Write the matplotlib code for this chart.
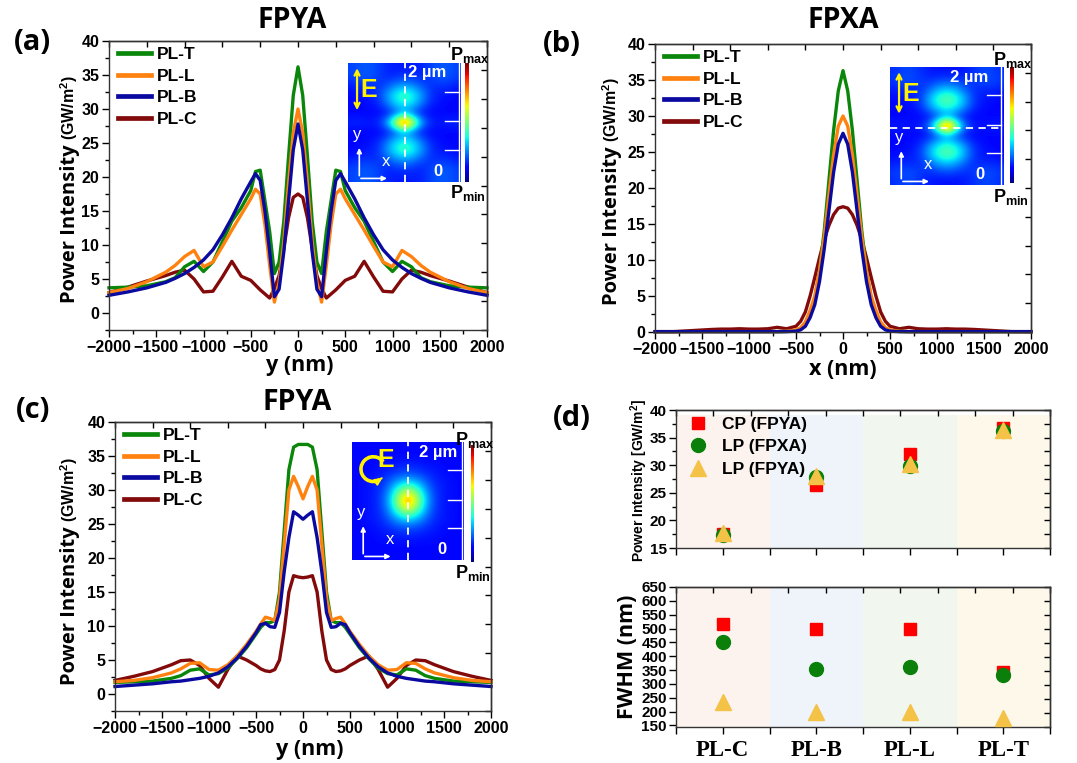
"""
Field profiles of the plasmonic lenses (FPYA / FPXA) plus peak intensity and FWHM summary.
"""
import numpy as np
import matplotlib
matplotlib.use("Agg")
import matplotlib.pyplot as plt
from matplotlib.ticker import MultipleLocator, FixedLocator
from matplotlib.patches import Arc

plt.rcParams["font.family"] = ["Liberation Sans", "DejaVu Sans"]
plt.rcParams["font.weight"] = "bold"
plt.rcParams["mathtext.fontset"] = "custom"
plt.rcParams["mathtext.rm"] = "Liberation Sans"
plt.rcParams["mathtext.bf"] = "Liberation Sans:bold"
plt.rcParams["axes.linewidth"] = 1.0
plt.rcParams["axes.edgecolor"] = "#333333"

# ---------------------------------------------------------------- data
position_nm = [-2000, -1800, -1600, -1400, -1300, -1200, -1100, -1000, -900, -800, -700, -600,
               -500, -450, -400, -350, -300, -250, -200, -150, -100, -50, 0, 50, 100, 150, 200,
               250, 300, 350, 400, 450, 500, 600, 700, 800, 900, 1000, 1100, 1200, 1300, 1400,
               1600, 1800, 2000]

# (a) FPYA, linear polarisation, cut along y
a_pl_t = [3.7, 3.8, 4.0, 4.6, 5.2, 6.8, 7.6, 6.1, 7.5, 10.5, 13.5, 15.5, 18, 20.8, 21, 16.5, 12, 5.8,
          7.5, 13.5, 23, 32, 36.2, 32, 23, 13.5, 7.5, 5.8, 12, 16.5, 21, 20.8, 18, 15.5, 13.5, 10.5,
          7.5, 6.1, 7.6, 6.8, 5.2, 4.6, 4.0, 3.8, 3.7]
a_pl_l = [3.0, 3.6, 4.6, 6.0, 7.0, 8.3, 9.2, 6.8, 7.5, 9.8, 12.2, 14.5, 16.8, 18.2, 17.5, 13, 7, 1.6,
          4.5, 10.5, 19, 26.5, 30, 26.5, 19, 10.5, 4.5, 1.6, 7, 13, 17.5, 18.2, 16.8, 14.5, 12.2, 9.8,
          7.5, 6.8, 9.2, 8.3, 7.0, 6.0, 4.6, 3.6, 3.0]
a_pl_b = [2.6, 3.1, 3.7, 4.5, 5.1, 5.8, 6.7, 7.8, 9.3, 11.5, 14, 16.8, 19.3, 20.5, 19.5, 15, 9, 2.4,
          3.5, 9, 16.5, 24, 27.8, 24, 16.5, 9, 3.5, 2.4, 9, 15, 19.5, 20.5, 19.3, 16.8, 14, 11.5,
          9.3, 7.8, 6.7, 5.8, 5.1, 4.5, 3.7, 3.1, 2.6]
a_pl_c = [3.0, 3.8, 4.7, 5.5, 6.0, 6.3, 5.0, 3.1, 3.2, 5.3, 7.6, 5.4, 4.8, 4.1, 3.4, 2.8, 2.2, 3.6,
          5.5, 9.5, 14, 17, 17.5, 17, 14, 9.5, 5.5, 3.6, 2.2, 2.8, 3.4, 4.1, 4.8, 5.4, 7.6, 5.3,
          3.2, 3.1, 5.0, 6.3, 6.0, 5.5, 4.7, 3.8, 3.0]

# (b) FPXA, linear polarisation, cut along x
b_pl_t = [0.05, 0.05, 0.05, 0.05, 0.05, 0.05, 0.05, 0.05, 0.05, 0.05, 0.05, 0.08, 0.2, 0.45, 1.1,
          2.6, 4.6, 8.5, 14, 21, 28, 33.5, 36.3, 33.5, 28, 21, 14, 8.5, 4.6, 2.6, 1.1, 0.45, 0.2,
          0.08, 0.05, 0.05, 0.05, 0.05, 0.05, 0.05, 0.05, 0.05, 0.05, 0.05, 0.05]
b_pl_l = [0.05, 0.05, 0.05, 0.05, 0.05, 0.05, 0.05, 0.05, 0.05, 0.05, 0.05, 0.1, 0.3, 0.6, 1.4,
          3.0, 5.0, 8.5, 13.2, 19, 24.6, 28.6, 30, 28.6, 24.6, 19, 13.2, 8.5, 5.0, 3.0, 1.4, 0.6,
          0.3, 0.1, 0.05, 0.05, 0.05, 0.05, 0.05, 0.05, 0.05, 0.05, 0.05, 0.05, 0.05]
b_pl_b = [0.05, 0.05, 0.05, 0.05, 0.05, 0.05, 0.05, 0.05, 0.05, 0.05, 0.05, 0.05, 0.12, 0.3, 0.8,
          2.0, 3.8, 7.0, 11.5, 16.8, 22.2, 26.1, 27.6, 26.1, 22.2, 16.8, 11.5, 7.0, 3.8, 2.0, 0.8,
          0.3, 0.12, 0.05, 0.05, 0.05, 0.05, 0.05, 0.05, 0.05, 0.05, 0.05, 0.05, 0.05, 0.05]
b_pl_c = [0.05, 0.05, 0.2, 0.35, 0.4, 0.4, 0.45, 0.4, 0.4, 0.45, 0.65, 0.45, 0.8, 1.5, 2.8, 5.0,
          7.6, 10.3, 12.8, 14.8, 16.3, 17.2, 17.4, 17.2, 16.3, 14.8, 12.8, 10.3, 7.6, 5.0, 2.8,
          1.5, 0.8, 0.45, 0.65, 0.45, 0.4, 0.4, 0.45, 0.4, 0.4, 0.35, 0.2, 0.05, 0.05]

# (c) FPYA, circular polarisation, cut along y
c_pl_t = [1.7, 1.8, 1.9, 2.3, 2.7, 3.5, 3.7, 2.8, 3.0, 3.8, 5.2, 6.8, 8.8, 9.8, 10.5, 10.5, 10.8,
          15, 24, 33, 36.3, 36.7, 36.7, 36.7, 36.3, 33, 24, 15, 10.8, 10.5, 10.5, 9.8, 8.8, 6.8,
          5.2, 3.8, 3.0, 2.8, 3.7, 3.5, 2.7, 2.3, 1.9, 1.8, 1.7]
c_pl_l = [1.8, 2.0, 2.4, 3.1, 3.7, 4.5, 4.6, 3.6, 3.5, 4.3, 5.6, 7.3, 9.2, 10.3, 11.3, 11.1, 10.8,
          14, 22, 30, 32, 30.5, 28.7, 30.5, 32, 30, 22, 14, 10.8, 11.1, 11.3, 10.3, 9.2, 7.3, 5.6,
          4.3, 3.5, 3.6, 4.6, 4.5, 3.7, 3.1, 2.4, 2.0, 1.8]
c_pl_b = [1.1, 1.3, 1.5, 1.8, 1.9, 2.1, 2.3, 2.6, 3.1, 4.0, 5.3, 7.0, 9.0, 10.2, 10.4, 9.9, 9.8,
          12, 18, 23, 26.8, 26.3, 25.7, 26.3, 26.8, 23, 18, 12, 9.8, 9.9, 10.4, 10.2, 9.0, 7.0,
          5.3, 4.0, 3.1, 2.6, 2.3, 2.1, 1.9, 1.8, 1.5, 1.3, 1.1]
c_pl_c = [2.0, 2.6, 3.3, 4.3, 4.9, 5.0, 4.2, 2.3, 1.0, 3.6, 5.6, 5.0, 4.2, 3.7, 3.4, 3.3, 3.6,
          5.0, 9.3, 15, 17.4, 17.2, 17.1, 17.2, 17.4, 15, 9.3, 5.0, 3.6, 3.3, 3.4, 3.7, 4.2, 5.0,
          5.6, 3.6, 1.0, 2.3, 4.2, 5.0, 4.9, 4.3, 3.3, 2.6, 2.0]

# (d) summary
lens_names = ["PL-C", "PL-B", "PL-L", "PL-T"]
peak_cp_fpya = [17.6, 26.5, 32.0, 36.7]
peak_lp_fpxa = [17.3, 27.8, 29.9, 36.2]
peak_lp_fpya = [17.7, 28.0, 30.2, 36.4]
fwhm_cp_fpya = [515, 500, 500, 341]
fwhm_lp_fpxa = [450, 352, 362, 333]
fwhm_lp_fpya = [235, 197, 200, 178]

# field maps of the insets (relative |E|^2, rows top to bottom)
map_lp_y = [
    [.19, .21, .21, .19, .16, .15, .15, .15, .16, .19, .21, .21, .19],
    [.19, .21, .21, .19, .16, .17, .18, .17, .16, .19, .21, .21, .19],
    [.15, .17, .17, .17, .21, .26, .29, .26, .21, .17, .17, .17, .15],
    [.13, .14, .15, .18, .28, .38, .44, .38, .28, .18, .15, .14, .13],
    [.13, .13, .14, .16, .24, .33, .37, .33, .24, .16, .14, .13, .13],
    [.13, .13, .13, .13, .14, .20, .28, .20, .14, .13, .13, .13, .13],
    [.16, .16, .15, .17, .30, .64, .99, .64, .30, .17, .15, .16, .16],
    [.13, .13, .13, .13, .14, .20, .28, .20, .14, .13, .13, .13, .13],
    [.13, .13, .14, .16, .24, .33, .37, .33, .24, .16, .14, .13, .13],
    [.13, .14, .15, .18, .28, .38, .44, .38, .28, .18, .15, .14, .13],
    [.15, .17, .17, .17, .21, .26, .29, .26, .21, .17, .17, .17, .15],
    [.19, .21, .21, .19, .16, .17, .18, .17, .16, .19, .21, .21, .19],
    [.19, .21, .21, .19, .16, .15, .15, .15, .16, .19, .21, .21, .19],
]
map_lp_x = [
    [.17, .19, .19, .17, .15, .14, .14, .14, .15, .17, .19, .19, .17],
    [.18, .20, .20, .18, .17, .19, .20, .19, .17, .18, .20, .20, .18],
    [.15, .16, .16, .17, .23, .30, .33, .30, .23, .17, .16, .16, .15],
    [.13, .14, .15, .19, .31, .42, .48, .42, .31, .19, .15, .14, .13],
    [.13, .13, .14, .17, .26, .35, .39, .35, .26, .17, .14, .13, .13],
    [.13, .13, .13, .13, .14, .20, .27, .20, .14, .13, .13, .13, .13],
    [.15, .15, .14, .16, .26, .60, .99, .60, .26, .16, .14, .15, .15],
    [.13, .13, .13, .13, .14, .20, .27, .20, .14, .13, .13, .13, .13],
    [.13, .13, .14, .17, .26, .35, .39, .35, .26, .17, .14, .13, .13],
    [.13, .14, .15, .19, .31, .42, .48, .42, .31, .19, .15, .14, .13],
    [.15, .16, .16, .17, .23, .30, .33, .30, .23, .17, .16, .16, .15],
    [.18, .20, .20, .18, .17, .19, .20, .19, .17, .18, .20, .20, .18],
    [.17, .19, .19, .17, .15, .14, .14, .14, .15, .17, .19, .19, .17],
]
map_cp = [
    [.13, .13, .13, .13, .13, .13, .13, .13, .13, .13, .13, .13, .13],
    [.13, .13, .13, .13, .13, .13, .13, .13, .13, .13, .13, .13, .13],
    [.13, .13, .13, .14, .14, .15, .15, .15, .14, .14, .13, .13, .13],
    [.13, .13, .14, .15, .17, .19, .20, .19, .17, .15, .14, .13, .13],
    [.13, .14, .15, .17, .23, .30, .34, .30, .23, .17, .15, .14, .13],
    [.13, .14, .15, .19, .30, .48, .60, .48, .30, .19, .15, .14, .13],
    [.13, .14, .15, .20, .34, .60, .80, .60, .34, .20, .15, .14, .13],
    [.13, .14, .15, .19, .30, .48, .60, .48, .30, .19, .15, .14, .13],
    [.13, .14, .15, .17, .23, .30, .34, .30, .23, .17, .15, .14, .13],
    [.13, .13, .14, .15, .17, .19, .20, .19, .17, .15, .14, .13, .13],
    [.13, .13, .13, .14, .14, .15, .15, .15, .14, .14, .13, .13, .13],
    [.13, .13, .13, .13, .13, .13, .13, .13, .13, .13, .13, .13, .13],
    [.13, .13, .13, .13, .13, .13, .13, .13, .13, .13, .13, .13, .13],
]

colors = {"PL-T": "#0a870a", "PL-L": "#ff8210", "PL-B": "#0a0aa0", "PL-C": "#820a0a"}
band_colors = ["#fcf3ee", "#eef4fa", "#f1f6ee", "#fdf8ea"]

W, H = 1077, 763
fig = plt.figure(figsize=(W / 100, H / 100), dpi=100)


def box(left, top, right, bottom):
    """pixel box -> figure fraction rect"""
    return [left / W, 1 - bottom / H, (right - left) / W, (bottom - top) / H]


def mirror_ticks(ax):
    x0, x1 = ax.get_xlim()
    y0, y1 = ax.get_ylim()
    top = ax.secondary_xaxis("top")
    top.xaxis.set_major_locator(FixedLocator(np.linspace(x0, x1, 11)))
    top.tick_params(direction="in", length=4, width=1, labeltop=False)
    right = ax.secondary_yaxis("right")
    right.yaxis.set_major_locator(FixedLocator(np.linspace(y0, y1, 11)))
    right.tick_params(direction="in", length=4, width=1, labelright=False)


def ylabel_two_part(x_px, y_px, big, small, big_size=14.5, small_size=11.5):
    t1 = fig.text(x_px / W, 1 - y_px / H, big, rotation=90, rotation_mode="anchor",
                  ha="left", va="baseline", fontsize=big_size, fontweight="bold",
                  family=["Open Sans", "DejaVu Sans"])
    fig.canvas.draw()
    bb = t1.get_window_extent()
    fig.text(x_px / W, (bb.y1 + 4) / H, small, rotation=90, rotation_mode="anchor",
             ha="left", va="baseline", fontsize=small_size, fontweight="bold")


def profile_panel(rect, curves, ylim, xlabel, xlabel_y, title, title_xy, tag_xy, tag):
    ax = fig.add_axes(rect)
    for name in ["PL-C", "PL-T", "PL-L", "PL-B"]:
        ax.plot(position_nm, curves[name], color=colors[name], lw=2.4, label=name,
                clip_on=False, solid_joinstyle="round")
    ax.set_xlim(-2000, 2000)
    ax.set_ylim(*ylim)
    ax.xaxis.set_major_locator(MultipleLocator(500))
    ax.xaxis.set_minor_locator(MultipleLocator(250))
    ax.yaxis.set_major_locator(MultipleLocator(5))
    ax.yaxis.set_minor_locator(MultipleLocator(2.5))
    ax.set_yticks([t for t in range(0, 45, 5)])
    ax.tick_params(which="both", direction="out", top=False, right=False, width=1,
                   labelsize=11.5, pad=2)
    ax.tick_params(which="major", length=5)
    ax.tick_params(which="minor", length=3)
    mirror_ticks(ax)
    handles, labels = ax.get_legend_handles_labels()
    order = [labels.index(n) for n in ["PL-T", "PL-L", "PL-B", "PL-C"]]
    ax.legend([handles[i] for i in order], [labels[i] for i in order], loc="upper left",
              bbox_to_anchor=(0.025, 0.98), frameon=False, fontsize=12.5, handlelength=1.9,
              handletextpad=0.3, labelspacing=0.38, borderaxespad=0, borderpad=0)
    for line in ax.get_legend().get_lines():
        line.set_linewidth(3.4)
    fig.text(title_xy[0] / W, 1 - title_xy[1] / H, title, ha="center", va="center",
             fontsize=20.5, fontweight="bold", family=["Open Sans", "DejaVu Sans"])
    fig.text(tag_xy[0] / W, 1 - tag_xy[1] / H, tag, ha="center", va="center",
             fontsize=21, fontweight="bold", family=["Open Sans", "DejaVu Sans"])
    fig.text(xlabel_y[0] / W, 1 - xlabel_y[1] / H, xlabel, ha="center", va="center",
             fontsize=15.5, fontweight="bold", family=["Open Sans", "DejaVu Sans"])
    return ax


def field_inset(img_box, cbar_box, pmax_xy, pmin_xy, field, cut, label_pos, circular=False):
    ia = fig.add_axes(box(*img_box))
    ia.imshow(field, cmap="jet", vmin=0, vmax=1, extent=(0, 1, 0, 1), aspect="auto",
              interpolation="bicubic")
    ia.set_xlim(0, 1)
    ia.set_ylim(0, 1)
    ia.axis("off")
    white = "white"
    if cut == "v":
        ia.plot([0.5, 0.5], [0, 1], color=white, lw=1.3, ls=(0, (4, 3)))
    else:
        ia.plot([0, 1.0], [0.48, 0.48], color=white, lw=1.3, ls=(0, (4, 3)), clip_on=False)
    # scale ticks at the right edge
    ia.plot([0.985, 0.985], [0, 1], color=white, lw=1.0, clip_on=False)
    for yy in (0.27, 0.51, 0.76):
        ia.plot([0.86, 0.985], [yy, yy], color=white, lw=1.0, clip_on=False)
    # coordinate arrows
    ia.annotate("", xy=(0.1, 0.31), xytext=(0.1, 0.03),
                arrowprops=dict(arrowstyle="-|>", color=white, lw=1.2, mutation_scale=7))
    ia.annotate("", xy=(0.37, 0.03), xytext=(0.09, 0.03),
                arrowprops=dict(arrowstyle="-|>", color=white, lw=1.2, mutation_scale=7))
    ia.text(0.08, 0.40, "y", color=white, fontsize=12, ha="center", va="center", fontweight="normal")
    ia.text(0.34, 0.17, "x", color=white, fontsize=12, ha="center", va="center", fontweight="normal")
    ia.text(label_pos[0], label_pos[1], "2 µm", color=white, fontsize=12, fontweight="bold",
            ha="center", va="center")
    ia.text(0.80, 0.085, "0", color=white, fontsize=12, fontweight="bold", ha="center", va="center")
    yellow = "#fff200"
    if circular:
        arc = Arc((0.19, 0.77), 0.22, 0.21, theta1=35, theta2=305, color=yellow, lw=2.6)
        ia.add_patch(arc)
        ia.annotate("", xy=(0.29, 0.71), xytext=(0.245, 0.68),
                    arrowprops=dict(arrowstyle="-|>", color=yellow, lw=1.5, mutation_scale=10))
        ia.text(0.30, 0.85, "E", color=yellow, fontsize=18, fontweight="bold",
                ha="center", va="center")
    else:
        ia.annotate("", xy=(0.08, 0.98), xytext=(0.08, 0.58),
                    arrowprops=dict(arrowstyle="<->", color=yellow, lw=1.6, mutation_scale=9))
        ia.text(0.18, 0.77, "E", color=yellow, fontsize=18, fontweight="bold",
                ha="center", va="center")
    ca = fig.add_axes(box(*cbar_box))
    ca.imshow(np.linspace(1, 0, 200)[:, None], cmap="jet", aspect="auto", extent=(0, 1, 0, 1))
    ca.axis("off")
    fig.text(pmax_xy[0] / W, 1 - pmax_xy[1] / H, r"$\mathbf{P}_{\mathbf{max}}$",
             ha="center", va="center", fontsize=13)
    fig.text(pmin_xy[0] / W, 1 - pmin_xy[1] / H, r"$\mathbf{P}_{\mathbf{min}}$",
             ha="center", va="center", fontsize=13)


# ---------------------------------------------------------------- (a)
ax_a = profile_panel(box(109, 41, 487, 330),
                     {"PL-T": a_pl_t, "PL-L": a_pl_l, "PL-B": a_pl_b, "PL-C": a_pl_c},
                     (-2.5, 40), "y (nm)", (300, 365), "FPYA", (292, 20), (32, 42), "(a)")
ylabel_two_part(75, 303, "Power Intensity", r"(GW/m$^{\mathbf{2}}$)")
field_inset((348, 63, 461, 182), (465, 63, 469, 182), (470, 55), (468, 193),
            map_lp_y, "v", (0.70, 0.92))

# ---------------------------------------------------------------- (b)
ax_b = profile_panel(box(655, 44, 1031, 332),
                     {"PL-T": b_pl_t, "PL-L": b_pl_l, "PL-B": b_pl_b, "PL-C": b_pl_c},
                     (0, 40), "x (nm)", (843, 370), "FPXA", (843, 21), (562, 45), "(b)")
ylabel_two_part(617, 305, "Power Intensity", r"(GW/m$^{\mathbf{2}}$)")
field_inset((890, 67, 1003, 185), (1010, 67, 1014, 183), (1013, 60), (1011, 197),
            map_lp_x, "h", (0.70, 0.91))

# ---------------------------------------------------------------- (c)
ax_c = profile_panel(box(115, 422, 491, 711),
                     {"PL-T": c_pl_t, "PL-L": c_pl_l, "PL-B": c_pl_b, "PL-C": c_pl_c},
                     (-2.5, 40), "y (nm)", (310, 750), "FPYA", (297, 402), (33, 410), "(c)")
ylabel_two_part(75, 685, "Power Intensity", r"(GW/m$^{\mathbf{2}}$)")
field_inset((352, 442, 464, 560), (471, 445, 474, 562), (475, 440), (473, 573),
            map_cp, "v", (0.77, 0.91), circular=True)

# ---------------------------------------------------------------- (d)
cat = np.arange(len(lens_names))


def summary_axes(rect, cp, lpx, lpy, ylim, top_band):
    ax = fig.add_axes(rect)
    for i, c in enumerate(band_colors):
        ax.axvspan(i - 0.5, i + 0.5, ymin=0, ymax=top_band, color=c, lw=0, zorder=0)
    ax.plot(cat, cp, ls="none", marker="s", ms=8.5, color="#ff0000", mec="#ff0000",
            label="CP (FPYA)", zorder=3)
    ax.plot(cat, lpx, ls="none", marker="o", ms=10, color="#0a800a", mec="#0a800a",
            label="LP (FPXA)", zorder=4)
    ax.plot(cat, lpy, ls="none", marker="^", ms=12, color="#f3c246", mec="#f3c246",
            label="LP (FPYA)", zorder=5)
    ax.set_xlim(-0.5, 3.5)
    ax.set_ylim(*ylim)
    ax.set_xticks(cat)
    ax.xaxis.set_minor_locator(FixedLocator([-0.5, 0.5, 1.5, 2.5, 3.5]))
    ax.tick_params(which="both", direction="out", top=False, right=False, width=1,
                   labelsize=11, pad=1.5)
    ax.tick_params(which="major", length=5)
    ax.tick_params(axis="x", which="minor", length=5)
    mirror_ticks(ax)
    return ax


ax_d1 = summary_axes(box(676, 410, 1050, 548), peak_cp_fpya, peak_lp_fpxa, peak_lp_fpya,
                     (15, 40), 0.965)
ax_d1.yaxis.set_major_locator(MultipleLocator(5))
ax_d1.yaxis.set_minor_locator(MultipleLocator(2.5))
ax_d1.tick_params(axis="y", which="minor", length=3)
ax_d1.set_xticklabels([])
ax_d1.legend(loc="upper left", bbox_to_anchor=(0.035, 0.95), frameon=False, fontsize=12.5,
             handlelength=1.0, handletextpad=0.9, labelspacing=0.42, borderaxespad=0,
             borderpad=0)
fig.text(644 / W, 1 - 481 / H, r"Power Intensity [GW/m$^{\mathbf{2}}$]", rotation=90,
         rotation_mode="anchor", ha="center", va="baseline", fontsize=10, fontweight="bold")

ax_d2 = summary_axes(box(676, 587, 1050, 727), fwhm_cp_fpya, fwhm_lp_fpxa, fwhm_lp_fpya,
                     (144, 650), 0.99)
ax_d2.set_yticks(range(150, 651, 50))
ax_d2.set_xticklabels(lens_names, fontsize=16.5, fontweight="bold",
                      family=["Liberation Serif", "DejaVu Serif"])
ax_d2.tick_params(axis="x", which="major", pad=4)
fig.text(633 / W, 1 - 657 / H, "FWHM (nm)", rotation=90, rotation_mode="anchor",
         ha="center", va="baseline", fontsize=15.5, fontweight="bold",
         family=["Open Sans", "DejaVu Sans"])
fig.text(572 / W, 1 - 418 / H, "(d)", ha="center", va="center", fontsize=21,
         fontweight="bold", family=["Open Sans", "DejaVu Sans"])

fig.savefig("out.png", dpi=100)
